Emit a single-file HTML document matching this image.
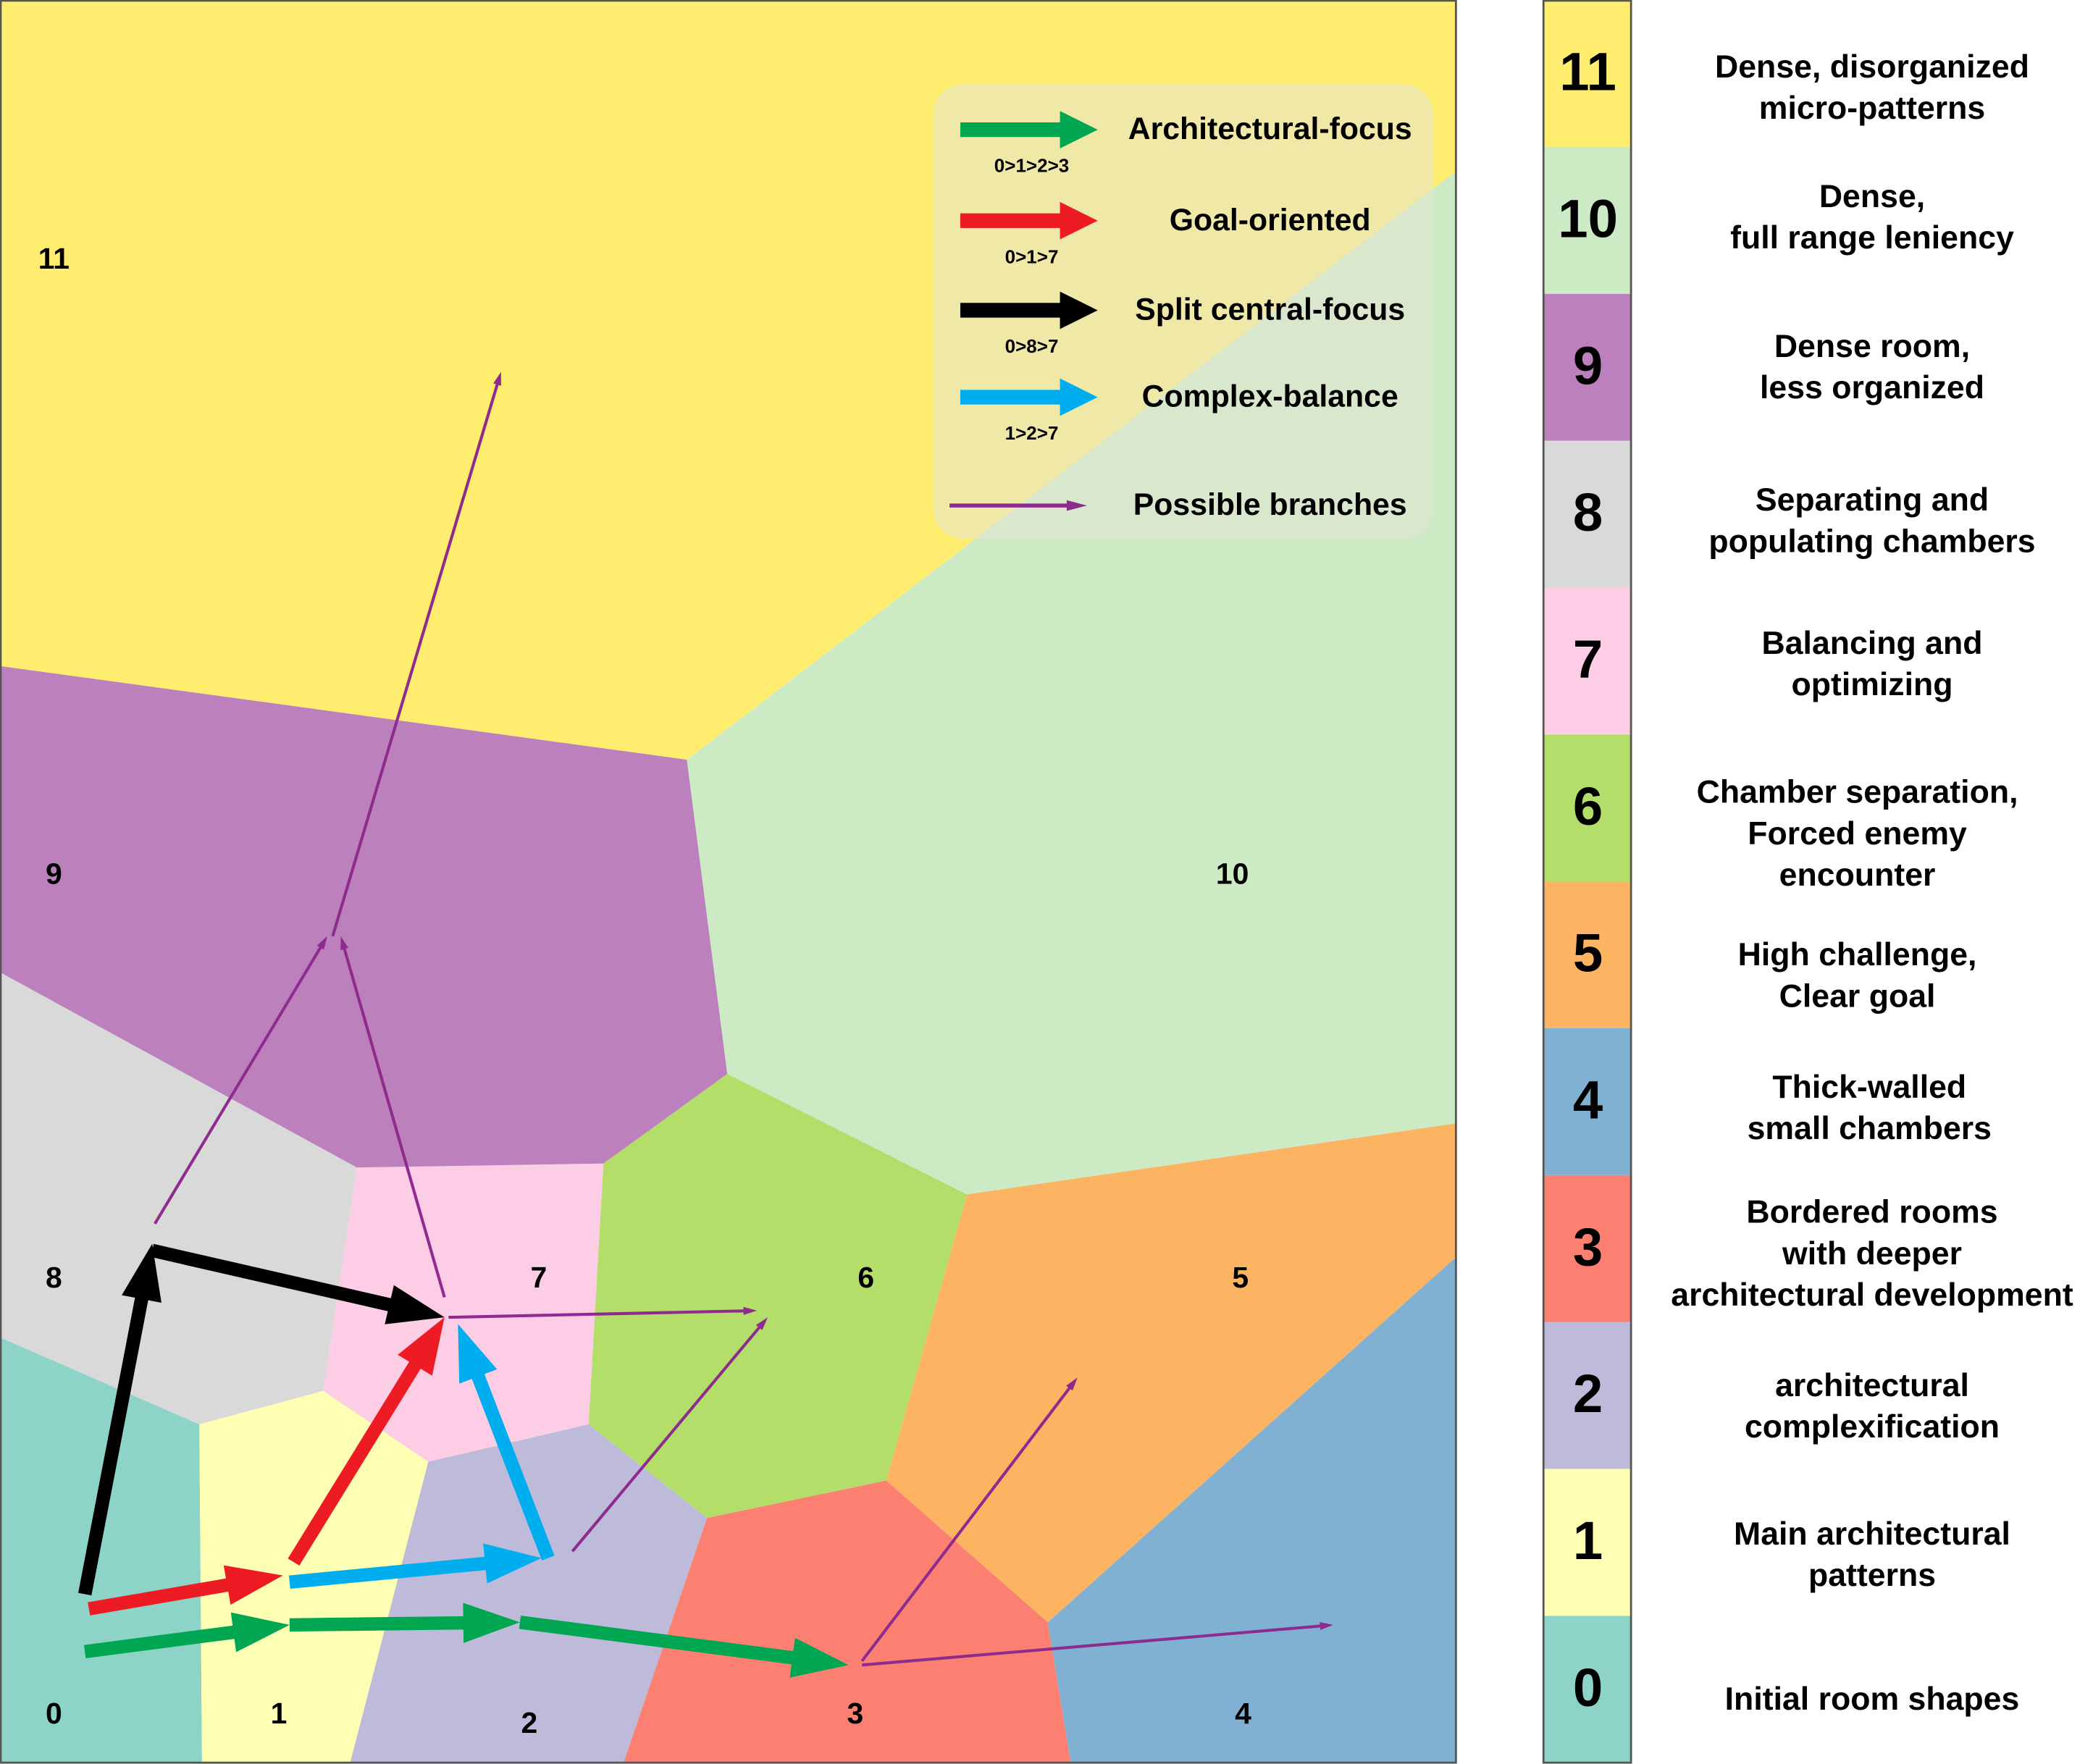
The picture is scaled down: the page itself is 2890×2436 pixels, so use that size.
<!DOCTYPE html>
<html><head><meta charset="utf-8"><style>
html,body{margin:0;padding:0;background:#fff;}
svg{display:block;}
text{font-family:"Liberation Sans",sans-serif;font-weight:bold;fill:#000;}
</style></head><body>
<svg id="chart" width="2890" height="2436" viewBox="0 0 1554 1319" preserveAspectRatio="none" xmlns="http://www.w3.org/2000/svg">
<g id="regions"></g>
<g id="regionLabels"></g>
<g id="arrows"></g>
<g id="legend"></g>
<rect x="0.5" y="0.5" width="1080.5" height="1317.5" fill="none" stroke="#555" stroke-width="1.5"/>
<g id="sidebar"></g>
</svg>
<script>
const NS="http://www.w3.org/2000/svg";
// categories
const categoryIds=[0,1,2,3,4,5,6,7,8,9,10,11];
const categoryColors=["#8dd3c7","#ffffb3","#bebada","#fb8072","#80b1d3","#fdb462","#b3de69","#fccde5","#d9d9d9","#bc80bd","#ccebc5","#ffed6f"];
const categoryDescriptions=[
 ["Initial room shapes"],
 ["Main architectural","patterns"],
 ["architectural","complexification"],
 ["Bordered rooms","with deeper","architectural development"],
 ["Thick-walled","small chambers"],
 ["High challenge,","Clear goal"],
 ["Chamber separation,","Forced enemy","encounter"],
 ["Balancing and","optimizing"],
 ["Separating and","populating chambers"],
 ["Dense room,","less organized"],
 ["Dense,","full range leniency"],
 ["Dense, disorganized","micro-patterns"]
];
const descCenterY=[1271,1163,1052,938,829,730,624,497,390,275,163,66];
const descCenterX=[1390,1390,1390,1390,1388,1379,1379,1390,1390,1390,1390,1390];
// region polygons in map units
const regionPolys={
 11:[[0,0],[1081,0],[1081,128],[510,568],[0,498]],
 10:[[510,568],[1081,128],[1081,840],[718,893],[540,803]],
 9:[[0,498],[510,568],[540,803],[448,870],[265,873],[0,727]],
 8:[[0,727],[265,873],[240,1040],[148,1065],[0,1000]],
 7:[[265,873],[448,870],[437,1065],[318,1093],[240,1040]],
 6:[[448,870],[540,803],[718,893],[658,1107],[525,1135],[437,1065]],
 5:[[718,893],[1081,840],[1081,940],[778,1213],[658,1107]],
 4:[[1081,940],[1081,1318],[795,1318],[778,1213]],
 3:[[525,1135],[658,1107],[778,1213],[795,1318],[463,1318]],
 2:[[318,1093],[437,1065],[525,1135],[463,1318],[260,1318]],
 1:[[148,1065],[240,1040],[318,1093],[260,1318],[150,1318]],
 0:[[0,1000],[148,1065],[150,1318],[0,1318]]
};
const regionLabelPos={11:[40,195],10:[915,655],9:[40,655],8:[40,957],7:[400,957],6:[643,957],5:[921,957],4:[923,1283],3:[635,1283],2:[393,1290],1:[207,1283],0:[40,1283]};
// arrows: [x1,y1,x2,y2]
const greenPath=[[63,1235,215,1215],[215,1215,386,1213],[386,1213,630,1245]];
const redPath=[[66,1203,210,1178],[218,1168,330,985]];
const blackPath=[[63,1192,113,930],[113,935,330,985]];
const bluePath=[[215,1183,402,1165],[407,1165,340,990]];
const branchPaths=[[640,1245,990,1215],[640,1242,800,1030],[425,1160,570,985],[333,985,562,980],[330,970,253,700],[115,915,243,700],[247,700,372,278]];

function el(tag,attrs,parent){const e=document.createElementNS(NS,tag);for(const k in attrs)e.setAttribute(k,attrs[k]);parent.appendChild(e);return e;}
const gR=document.getElementById('regions');
categoryIds.forEach(id=>{
 const p=el('polygon',{points:regionPolys[id].map(q=>q.join(',')).join(' '),fill:categoryColors[id]},gR);
 
 
});
const gL=document.getElementById('regionLabels');
categoryIds.forEach(id=>{
 const t=el('text',{x:regionLabelPos[id][0],y:regionLabelPos[id][1],'font-size':22,'text-anchor':'middle','dominant-baseline':'middle'},gL);
 t.textContent=String(id);
 
 
});
function arrow(parent,a,color,w,hl,hw,name){
 const [x1,y1,x2,y2]=a;const dx=x2-x1,dy=y2-y1,L=Math.hypot(dx,dy),ux=dx/L,uy=dy/L,nx=-uy,ny=ux;
 const bx=x2-ux*hl,by=y2-uy*hl;
 const pts=[[x1+nx*w/2,y1+ny*w/2],[bx+nx*w/2,by+ny*w/2],[bx+nx*hw/2,by+ny*hw/2],[x2,y2],[bx-nx*hw/2,by-ny*hw/2],[bx-nx*w/2,by-ny*w/2],[x1-nx*w/2,y1-ny*w/2]];
 const p=el('polygon',{points:pts.map(q=>q.join(',')).join(' '),fill:color},parent);
 
 
}
const gA=document.getElementById('arrows');
branchPaths.forEach((a,i)=>arrow(gA,a,'#8e2b8e',2.2,10,6,'branch-arrow-'+i));
greenPath.forEach((a,i)=>arrow(gA,a,'#00a651',10,42,30,'architectural-focus-arrow-'+i));
redPath.forEach((a,i)=>arrow(gA,a,'#ed1c24',10,42,30,'goal-oriented-arrow-'+i));
blackPath.forEach((a,i)=>arrow(gA,a,'#000',10,42,30,'split-central-arrow-'+i));
bluePath.forEach((a,i)=>arrow(gA,a,'#00aeef',10,42,30,'complex-balance-arrow-'+i));

// legend
const legendNames=["Architectural-focus","Goal-oriented","Split central-focus","Complex-balance","Possible branches"];
const legendSubs=["0>1>2>3","0>1>7","0>8>7","1>2>7",""];
const legendColors=["#00a651","#ed1c24","#000000","#00aeef","#8e2b8e"];
const legendY=[97,165,232,297,378];
const gLg=document.getElementById('legend');
const bg=el('rect',{x:693,y:63,width:371,height:340,rx:22,fill:'#e4e4d4','fill-opacity':0.55},gLg);


legendNames.forEach((n,i)=>{
 const g=el('g',{},gLg);
 
 
 const y=legendY[i];
 if(i<4)arrow(g,[713,y,815,y],legendColors[i],11,28,28,'legend-arrow-'+(i+1));
 else arrow(g,[705,y,807,y],legendColors[i],3,15,8,'legend-arrow-'+(i+1));
 const t=el('text',{x:943,y:y+1,'font-size':23,'text-anchor':'middle','dominant-baseline':'middle'},g);
 t.textContent=n;
 
 
 if(legendSubs[i]){
  const s=el('text',{x:766,y:y+28,'font-size':14,'text-anchor':'middle','dominant-baseline':'middle'},g);
  s.textContent=legendSubs[i];
  
  
 }
});

// sidebar
const gS=document.getElementById('sidebar');
const rowH=1318/12;
categoryIds.forEach(id=>{
 const r=11-id;const y0=r*rowH;
 const g=el('g',{},gS);
 
 
 const rc=el('rect',{x:1146,y:y0,width:65,height:rowH,fill:categoryColors[id]},g);
 
 
 const t=el('text',{x:1179,y:y0+rowH/2+2,'font-size':40,'text-anchor':'middle','dominant-baseline':'middle'},g);
 t.textContent=String(id);
 
 
 const lines=categoryDescriptions[id];const lh=31;
 lines.forEach((ln,k)=>{
  const d=el('text',{x:descCenterX[id],y:descCenterY[id]+(k-(lines.length-1)/2)*lh+1,'font-size':24,'text-anchor':'middle','dominant-baseline':'middle'},g);
  d.textContent=ln;
  
  
 });
});
const sb=el('rect',{x:1146,y:0.5,width:65,height:1317.5,fill:'none',stroke:'#555','stroke-width':1.5},gS);


</script>
</body></html>
